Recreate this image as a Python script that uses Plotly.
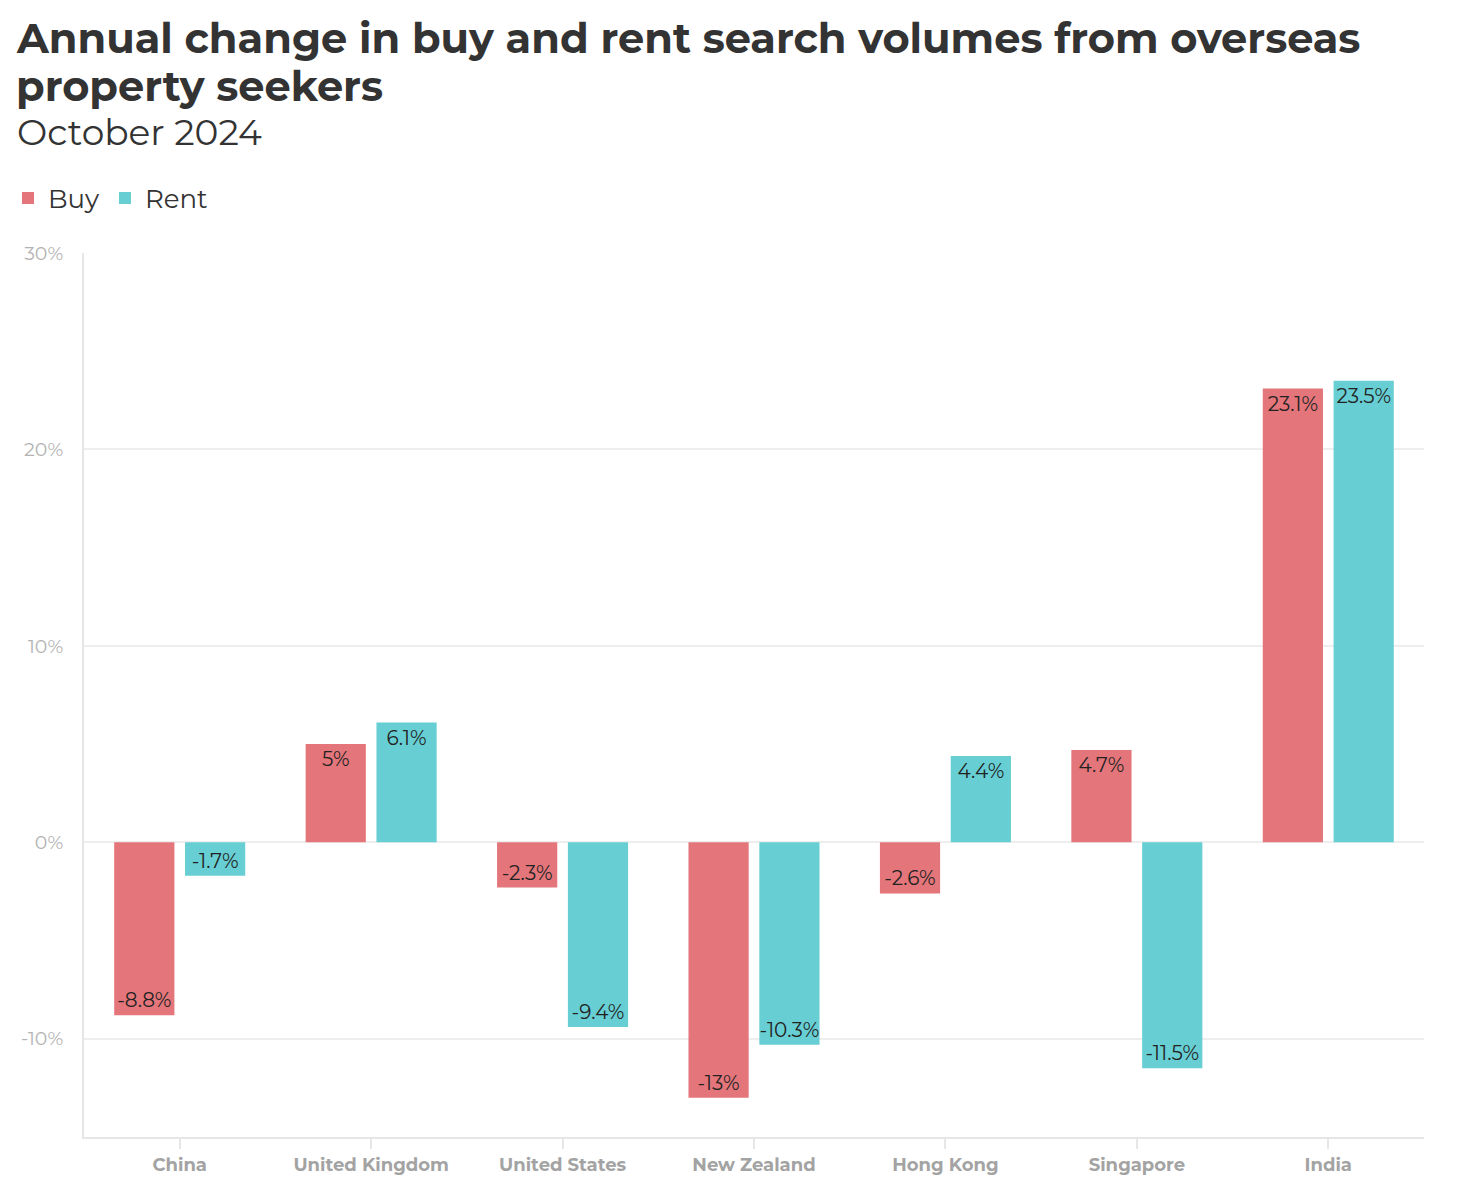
import plotly.graph_objects as go

countries = ["China", "United Kingdom", "United States", "New Zealand", "Hong Kong", "Singapore", "India"]
buy = [-8.8, 5, -2.3, -13, -2.6, 4.7, 23.1]
rent = [-1.7, 6.1, -9.4, -10.3, 4.4, -11.5, 23.5]
buy_labels = ["-8.8%", "5%", "-2.3%", "-13%", "-2.6%", "4.7%", "23.1%"]
rent_labels = ["-1.7%", "6.1%", "-9.4%", "-10.3%", "4.4%", "-11.5%", "23.5%"]
y_ticks = [-10, 0, 10, 20, 30]
y_tick_labels = ["-10%", "0%", "10%", "20%", "30%"]

FONT = "Montserrat, Open Sans, sans-serif"
OFF = 8  # page body margin
W, H = 1472 - OFF, 1190 - OFF
ML, MR, MT, MB = 84 - OFF, 48, 253 - OFF, 53
PH = H - MT - MB
PW = W - ML - MR


def py(px):
    # px in screenshot coordinates
    return (H - MB - (px - OFF)) / PH


def px_x(px):
    return ((px - OFF) - ML) / PW


fig = go.Figure()
fig.add_trace(go.Bar(
    name="Buy", x=countries, y=buy, text=buy_labels,
    marker=dict(color="#e4767b", line=dict(width=0)),
    textposition="inside", insidetextanchor="end", textangle=0,
    constraintext="none",
    textfont=dict(family=FONT, size=20, color="#222222"),
    hoverinfo="skip",
))
fig.add_trace(go.Bar(
    name="Rent", x=countries, y=rent, text=rent_labels,
    marker=dict(color="#67cfd4", line=dict(width=0)),
    textposition="inside", insidetextanchor="end", textangle=0,
    constraintext="none",
    textfont=dict(family=FONT, size=20, color="#222222"),
    hoverinfo="skip",
))

fig.update_layout(
    width=W, height=H,
    margin=dict(l=ML, r=MR, t=MT, b=MB, autoexpand=False),
    paper_bgcolor="white", plot_bgcolor="white",
    barmode="group", bargap=0.26, bargroupgap=0.15,
    font=dict(family=FONT, color="#333333"),
    showlegend=True,
    legend=dict(
        orientation="h", xref="container", yref="container",
        x=0, xanchor="left",
        y=1 - (198 - OFF) / H, yanchor="middle",
        font=dict(family=FONT, size=26, color="#333333"),
        itemwidth=30, tracegroupgap=0, traceorder="normal",
    ),
    xaxis=dict(
        showgrid=False, showline=True, linecolor="#e6e6e6", linewidth=2,
        ticks="outside", tickcolor="#e6e6e6", ticklen=10, tickwidth=2,
        tickfont=dict(family=FONT, size=18, color="#a3a3a3", weight="bold"),
        fixedrange=True, automargin=False,
    ),
    yaxis=dict(
        range=[-15, 30], tickvals=y_ticks, ticktext=y_tick_labels,
        showgrid=True, gridcolor="#eeeeee", gridwidth=2,
        zeroline=True, zerolinecolor="#eeeeee", zerolinewidth=2,
        showline=True, linecolor="#e6e6e6", linewidth=2,
        ticks="", ticklabelstandoff=15,
        tickfont=dict(family=FONT, size=19, color="#b3b3b3"),
        fixedrange=True, automargin=False,
    ),
    annotations=[
        dict(xref="paper", yref="paper", x=px_x(14), y=py(38), xanchor="left", yanchor="middle",
             text="<b>Annual change in buy and rent search volumes from overseas</b>",
             showarrow=False, align="left",
             font=dict(family=FONT, size=41.5, color="#333333")),
        dict(xref="paper", yref="paper", x=px_x(14), y=py(86), xanchor="left", yanchor="middle",
             text="<b>property seekers</b>",
             showarrow=False, align="left",
             font=dict(family=FONT, size=41.5, color="#333333")),
        dict(xref="paper", yref="paper", x=px_x(15), y=py(132), xanchor="left", yanchor="middle",
             text="October 2024", showarrow=False, align="left",
             font=dict(family=FONT, size=36, color="#333333")),
    ],
)

fig.write_html("out.html")
